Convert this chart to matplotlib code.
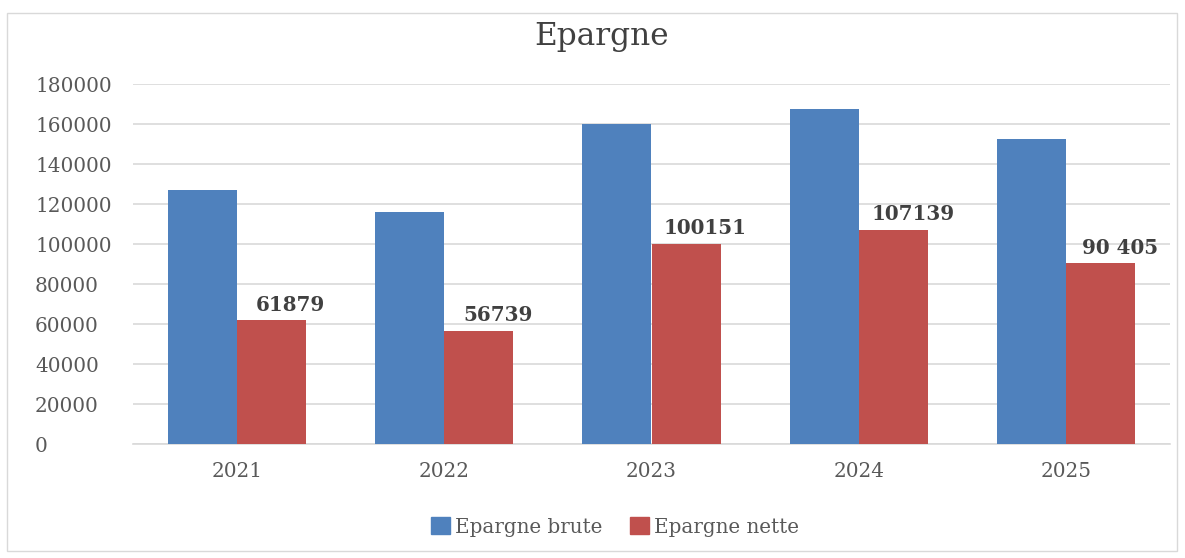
import matplotlib
matplotlib.use("Agg")
import matplotlib.pyplot as plt
import numpy as np
from matplotlib.patches import Rectangle, Patch

years = ["2021", "2022", "2023", "2024", "2025"]
brute = [127000, 115800, 160000, 167300, 152300]
nette = [61879, 56739, 100151, 107139, 90405]
nette_labels = ["61879", "56739", "100151", "107139", "90 405"]
yticks = [0, 20000, 40000, 60000, 80000, 100000, 120000, 140000, 160000, 180000]

plt.rcParams['font.family'] = ['DejaVu Serif']

fig = plt.figure(figsize=(11.85, 5.58), dpi=100)
fig.patches.append(Rectangle((7/1185, 1-551/558), 1170/1185, 538/558, transform=fig.transFigure,
                             fill=False, edgecolor='#D9D9D9', linewidth=1))
ax = fig.add_axes([133/1185, 1-444/558, 1037/1185, 360/558])

x = np.arange(len(years))
w = 1/3
ax.bar(x - w/2, brute, width=w, color='#4F81BD', label='Epargne brute', zorder=3)
bars = ax.bar(x + w/2, nette, width=w, color='#C0504D', label='Epargne nette', zorder=3)

for b, lab in zip(bars, nette_labels):
    ax.annotate(lab, (b.get_x() + b.get_width()/2, b.get_height()), xytext=(14, 4),
                textcoords='offset points', ha='center', va='bottom',
                fontsize=14.3, fontweight='bold', color='#404040')

ax.set_xlim(-0.5, 4.5)
ax.set_ylim(0, 180000)
ax.set_yticks(yticks)
ax.set_yticklabels([str(v) for v in yticks])
ax.set_xticks(x)
ax.set_xticklabels(years)
ax.grid(axis='y', color='#D9D9D9', linewidth=1.2, zorder=0)
for s in ['top', 'right', 'left']:
    ax.spines[s].set_visible(False)
ax.spines['bottom'].set_color('#D9D9D9')
ax.spines['bottom'].set_linewidth(1.2)
ax.tick_params(axis='both', length=0, labelsize=14.4, colors='#595959')
ax.tick_params(axis='y', pad=(133-35)*0.72)
for t in ax.get_yticklabels():
    t.set_horizontalalignment('left')
ax.tick_params(axis='x', pad=13)

fig.text(602/1185, 1-37/558, 'Epargne', ha='center', va='center', fontsize=22.5, color='#404040')

handles = [Patch(color='#4F81BD'), Patch(color='#C0504D')]
fig.legend(handles, ['Epargne brute', 'Epargne nette'], loc='center', bbox_to_anchor=(615/1185, 1-527/558),
           ncol=2, frameon=False, fontsize=14.3, handlelength=0.95, handleheight=0.95,
           handletextpad=0.25, columnspacing=1.4, labelcolor='#595959')

fig.savefig('out.png', dpi=100)
